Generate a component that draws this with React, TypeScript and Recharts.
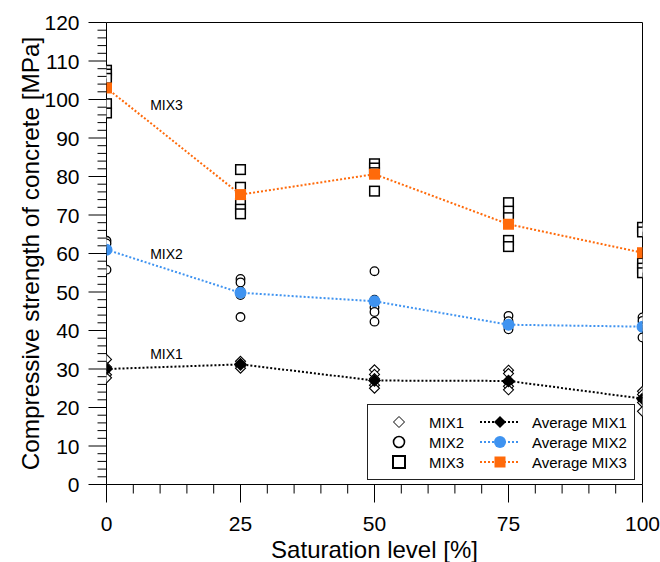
import React from 'react';
import {
  ComposedChart,
  Scatter,
  Line,
  XAxis,
  YAxis,
  ReferenceLine,
  ReferenceDot,
  Legend,
  Label,
} from 'recharts';

const FONT = '"Liberation Sans", Arial, Helvetica, sans-serif';

// ---- data ----
const saturation = [0, 25, 50, 75, 100];

const mix1Samples = [
  [32.5, 30.5, 28.5, 27.7],
  [32.0, 31.4, 30.8, 30.2],
  [29.8, 28.6, 27.5, 25.8, 25.0],
  [29.7, 28.8, 26.5, 25.5, 24.6],
  [24.2, 23.4, 22.0, 21.3, 19.0],
];
const mix2Samples = [
  [63.3, 62.6, 55.8],
  [53.4, 52.5, 50.2, 49.2, 43.5],
  [55.4, 48.0, 46.0, 44.8, 42.3],
  [43.8, 42.4, 41.2, 40.3],
  [43.4, 42.5, 40.8, 38.2],
];
const mix3Samples = [
  [107.6, 106.6, 105.5, 98.9, 96.5],
  [81.8, 77.2, 73.0, 71.5, 70.3],
  [83.3, 82.2, 81.0, 76.2],
  [73.2, 71.0, 69.3, 63.4, 61.8],
  [66.8, 65.6, 57.5, 56.2, 55.0],
];

const avgMix1 = [30.0, 31.2, 27.0, 26.9, 22.3];
const avgMix2 = [61.0, 49.8, 47.6, 41.5, 41.0];
const avgMix3 = [103.0, 75.3, 80.6, 67.6, 60.2];

const xMajorTicks = [0, 25, 50, 75, 100];
const yMajorTicks = [0, 10, 20, 30, 40, 50, 60, 70, 80, 90, 100, 110, 120];
const xAllTicks = [0, 5, 10, 15, 20, 25, 30, 35, 40, 45, 50, 55, 60, 65, 70, 75, 80, 85, 90, 95, 100];
const yAllTicks = Array.from({ length: 61 }, (_, i) => i * 2);

const mixLabels = [
  { name: 'MIX3', x: 11.2, y: 98.5 },
  { name: 'MIX2', x: 11.2, y: 59.8 },
  { name: 'MIX1', x: 11.2, y: 33.8 },
];

const BLUE = '#3f93f0';
const ORANGE = '#ff6a0a';

const toPoints = (samples: number[][]) =>
  saturation.flatMap((s, i) => samples[i].map((v) => ({ x: s, y: v })));
const toLine = (avg: number[]) => saturation.map((s, i) => ({ x: s, y: avg[i] }));

const mix1Data = toPoints(mix1Samples);
const mix2Data = toPoints(mix2Samples);
const mix3Data = toPoints(mix3Samples);
const avg1Data = toLine(avgMix1);
const avg2Data = toLine(avgMix2);
const avg3Data = toLine(avgMix3);

// ---- shapes ----
const Diamond = ({ cx, cy, h = 5, fill = '#fff', stroke = '#000', sw = 1.1 }: any) => (
  <polygon
    points={`${cx},${cy - h} ${cx + h},${cy} ${cx},${cy + h} ${cx - h},${cy}`}
    fill={fill}
    stroke={stroke}
    strokeWidth={sw}
  />
);
const Circ = ({ cx, cy, r = 4.3, fill = '#fff', stroke = '#000', sw = 1.3 }: any) => (
  <circle cx={cx} cy={cy} r={r} fill={fill} stroke={stroke} strokeWidth={sw} />
);
const Sq = ({ cx, cy, h = 4.8, fill = '#fff', stroke = '#000', sw = 1.5 }: any) => (
  <rect x={cx - h} y={cy - h} width={2 * h} height={2 * h} fill={fill} stroke={stroke} strokeWidth={sw} />
);

// ---- ticks ----
const XTick = (props: any) => {
  const { x, y, payload } = props;
  const v = payload.value;
  const major = xMajorTicks.includes(v);
  return (
    <g>
      <line x1={x} x2={x} y1={y} y2={y + (major ? 18 : 9)} stroke="#000" strokeWidth={1} />
      {major && (
        <text x={x} y={y + 39} textAnchor="middle" dominantBaseline="central" fontSize={21} fontFamily={FONT} fill="#000">
          {v}
        </text>
      )}
    </g>
  );
};

const YTick = (props: any) => {
  const { x, y, payload } = props;
  const v = payload.value;
  const major = yMajorTicks.includes(v);
  return (
    <g>
      <line x1={x - (major ? 18 : 9)} x2={x} y1={y} y2={y} stroke="#000" strokeWidth={1} />
      {major && (
        <text x={x - 27} y={y} textAnchor="end" dominantBaseline="central" fontSize={21} fontFamily={FONT} fill="#000">
          {v}
        </text>
      )}
    </g>
  );
};

const YTitle = ({ viewBox }: any) => {
  const cx = viewBox.x + 22;
  const cy = viewBox.y + viewBox.height / 2;
  return (
    <text
      x={cx}
      y={cy}
      transform={`rotate(-90 ${cx} ${cy})`}
      textAnchor="middle"
      dominantBaseline="central"
      fontSize={24.3}
      fontFamily={FONT}
      fill="#000"
    >
      Compressive strength of concrete [MPa]
    </text>
  );
};

const XTitle = ({ viewBox }: any) => {
  const cx = viewBox.x + viewBox.width / 2;
  const cy = viewBox.y + 64.5;
  return (
    <text x={cx} y={cy} textAnchor="middle" dominantBaseline="central" fontSize={24} fontFamily={FONT} fill="#000">
      Saturation level [%]
    </text>
  );
};

// ---- legend ----
const legendRows = [
  { name: 'MIX1', avgName: 'Average MIX1', color: '#000', kind: 'diamond' },
  { name: 'MIX2', avgName: 'Average MIX2', color: BLUE, kind: 'circle' },
  { name: 'MIX3', avgName: 'Average MIX3', color: ORANGE, kind: 'square' },
];

const LegendBox = () => (
  <div
    style={{
      width: 268,
      height: 76,
      border: '1px solid #222',
      boxSizing: 'border-box',
      background: '#fff',
    }}
  >
    <svg width={266} height={74} style={{ display: 'block' }}>
      {legendRows.map((r, i) => {
        const y = 17 + i * 20;
        return (
          <g key={r.name}>
            {r.kind === 'diamond' && <Diamond cx={31} cy={y} h={5.5} sw={1} />}
            {r.kind === 'circle' && <Circ cx={31} cy={y} r={5.5} sw={1.6} />}
            {r.kind === 'square' && <Sq cx={31} cy={y} h={6} sw={2} />}
            <text x={61} y={y} dominantBaseline="central" fontSize={15} fontFamily={FONT} fill="#000">
              {r.name}
            </text>
            <line x1={112} x2={151} y1={y} y2={y} stroke={r.color} strokeWidth={2} strokeDasharray="2 2" />
            {r.kind === 'diamond' && <Diamond cx={132} cy={y} h={6} fill="#000" sw={0} />}
            {r.kind === 'circle' && <Circ cx={132} cy={y} r={6} fill={BLUE} stroke="none" sw={0} />}
            {r.kind === 'square' && <Sq cx={132} cy={y} h={5.5} fill={ORANGE} stroke="none" sw={0} />}
            <text x={164} y={y} dominantBaseline="central" fontSize={15} fontFamily={FONT} fill="#000">
              {r.avgName}
            </text>
          </g>
        );
      })}
    </svg>
  </div>
);

export default function App() {
  return (
    <div style={{ position: 'absolute', left: 8, top: 8, width: 652, height: 554, fontFamily: FONT }}>
      <ComposedChart width={652} height={554} margin={{ top: 14.5, right: 17.5, bottom: 0, left: 0 }}>
        <XAxis
          type="number"
          dataKey="x"
          domain={[0, 100]}
          ticks={xAllTicks}
          interval={0}
          height={77.5}
          tickSize={0}
          tickMargin={0}
          tickLine={false}
          tick={<XTick />}
          axisLine={{ stroke: '#000', strokeWidth: 1 }}
          allowDataOverflow
        >
          <Label content={<XTitle />} />
        </XAxis>
        <YAxis
          type="number"
          dataKey="y"
          domain={[0, 120]}
          ticks={yAllTicks}
          interval={0}
          width={98.5}
          tickSize={0}
          tickMargin={0}
          tickLine={false}
          tick={<YTick />}
          axisLine={{ stroke: '#000', strokeWidth: 1 }}
          allowDataOverflow
        >
          <Label content={<YTitle />} />
        </YAxis>
        <ReferenceLine y={120} stroke="#000" strokeWidth={1} />
        <ReferenceLine x={100} stroke="#000" strokeWidth={1} />

        <Scatter
          name="MIX1"
          data={mix1Data}
          dataKey="y"
          isAnimationActive={false}
          shape={(p: any) => <Diamond cx={p.cx} cy={p.cy} />}
        />
        <Scatter
          name="MIX2"
          data={mix2Data}
          dataKey="y"
          isAnimationActive={false}
          shape={(p: any) => <Circ cx={p.cx} cy={p.cy} />}
        />
        <Scatter
          name="MIX3"
          data={mix3Data}
          dataKey="y"
          isAnimationActive={false}
          shape={(p: any) => <Sq cx={p.cx} cy={p.cy} />}
        />

        <Line
          name="Average MIX1"
          data={avg1Data}
          dataKey="y"
          stroke="#000"
          strokeWidth={2}
          strokeDasharray="2 2"
          isAnimationActive={false}
          dot={(p: any) => <Diamond key={`d1-${p.index}`} cx={p.cx} cy={p.cy} h={6.5} fill="#000" sw={0} />}
          activeDot={false}
        />
        <Line
          name="Average MIX2"
          data={avg2Data}
          dataKey="y"
          stroke={BLUE}
          strokeWidth={2}
          strokeDasharray="2 2"
          isAnimationActive={false}
          dot={(p: any) => <Circ key={`d2-${p.index}`} cx={p.cx} cy={p.cy} r={6} fill={BLUE} stroke="none" sw={0} />}
          activeDot={false}
        />
        <Line
          name="Average MIX3"
          data={avg3Data}
          dataKey="y"
          stroke={ORANGE}
          strokeWidth={2}
          strokeDasharray="2 2"
          isAnimationActive={false}
          dot={(p: any) => <Sq key={`d3-${p.index}`} cx={p.cx} cy={p.cy} h={5.5} fill={ORANGE} stroke="none" sw={0} />}
          activeDot={false}
        />

        {mixLabels.map((m) => (
          <ReferenceDot
            key={m.name}
            x={m.x}
            y={m.y}
            r={0}
            fill="none"
            stroke="none"
            label={{ value: m.name, position: 'center', fontSize: 14, fill: '#000', fontFamily: FONT }}
          />
        ))}

        <Legend
          layout="horizontal"
          verticalAlign="middle"
          align="center"
          content={() => <LegendBox />}
          wrapperStyle={{ left: 359, top: 396, width: 268, height: 76 }}
        />
      </ComposedChart>
    </div>
  );
}
